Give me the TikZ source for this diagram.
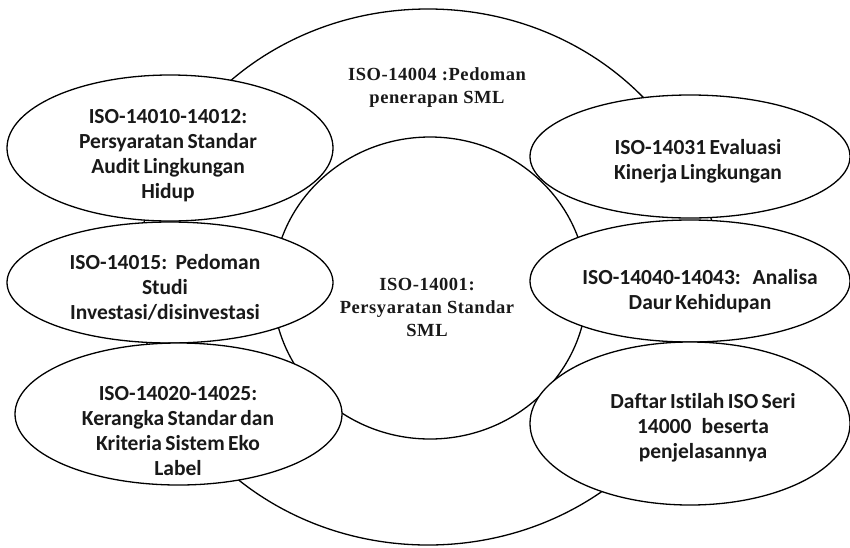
\documentclass[tikz,border=0pt]{standalone}
\usepackage{fontspec}
\setmainfont{Liberation Serif}
\newfontfamily\serifsp[LetterSpace=3]{Liberation Serif}
\newfontfamily\carl[Ligatures=CommonOff,WordSpace=0.7]{Carlito}
\usetikzlibrary{shapes.geometric}
\tikzset{
  ringshape/.style={ellipse, draw=black, line width=1.3pt, inner sep=0pt, fill=white},
  smallell/.style={ellipse, draw=black, line width=1.3pt, inner sep=0pt, fill=white},
  sanslbl/.style={align=center, inner sep=0pt, font=\carl\bfseries\fontsize{21.5}{25}\selectfont, text=black!90},
  seriflbl/.style={align=center, inner sep=0pt, font=\serifsp\bfseries\fontsize{18.5}{23}\selectfont, text=black!90}
}
\begin{document}
\begin{tikzpicture}[x=1pt,y=-1pt]
\useasboundingbox (0,0) rectangle (850,547);
\fill[white] (0,0) rectangle (850,547);
% large rings
\node[ringshape, minimum width=580pt, minimum height=536pt] (outer) at (428,277) {};
\node[ringshape, minimum width=314pt, minimum height=302pt] (inner) at (430,288) {};
% small ellipses
\node[smallell, minimum width=326pt, minimum height=146pt] (e1) at (170,148) {};
\node[smallell, minimum width=326pt, minimum height=121pt] (e2) at (170,282.5) {};
\node[smallell, minimum width=327pt, minimum height=142pt] (e3) at (178.5,414) {};
\node[smallell, minimum width=320pt, minimum height=123pt] (e4) at (690,156.5) {};
\node[smallell, minimum width=320pt, minimum height=122pt] (e5) at (690,281) {};
\node[smallell, minimum width=320pt, minimum height=163pt] (e6) at (690,423.5) {};
% labels
\node[seriflbl] (tOuter) at (437,87.6) {ISO-14004 :Pedoman\\penerapan SML};
\node[seriflbl] (tInner) at (427,307) {ISO-14001:\\Persyaratan Standar\\SML};
\node[sanslbl] (t1) at (168,155.8) {ISO-14010-14012:\\Persyaratan Standar\\Audit Lingkungan\\Hidup};
\node[sanslbl] (t2) at (165,287) {ISO-14015:~ Pedoman\\Studi\\Investasi/disinvestasi};
\node[sanslbl] (t3) at (178,431) {ISO-14020-14025:\\Kerangka Standar dan\\Kriteria Sistem Eko\\Label};
\node[sanslbl] (t4) at (698,161) {ISO-14031 Evaluasi\\Kinerja Lingkungan};
\node[sanslbl] (t5) at (700,291) {ISO-14040-14043:~~ Analisa\\Daur Kehidupan};
\node[sanslbl] (t6) at (703,428) {Daftar Istilah ISO Seri\\14000~~ beserta\\penjelasannya};
\end{tikzpicture}
\end{document}
